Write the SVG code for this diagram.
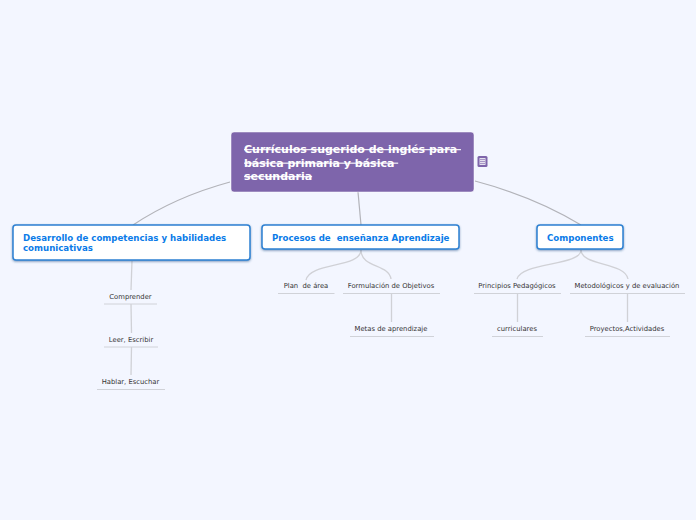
<svg xmlns="http://www.w3.org/2000/svg" width="696" height="520" viewBox="0 0 696 520">
<defs>
<style>
text{font-family:"DejaVu Sans",Verdana,sans-serif;white-space:pre}
.root{font-size:11px;font-weight:700;fill:#fff;text-decoration:line-through}
.main{font-size:8.650px;font-weight:700;fill:#0a7be8}
.sub{font-size:6.800px;fill:#333;text-anchor:middle}
.box{fill:#fff;stroke:#2d80d2;stroke-width:1.500;filter:url(#sh)}
.ul{stroke:#d0d2d8;stroke-width:1;fill:none}
.c1{stroke:#b2b3b9;stroke-width:1.200;fill:none}
.c2{stroke:#d0d1d6;stroke-width:1.300;fill:none}
</style>
<filter id="sh" x="-5%" y="-20%" width="110%" height="150%"><feDropShadow dx="0" dy="1" stdDeviation="0.8" flood-color="#1f4f86" flood-opacity="0.55"/></filter>
</defs>
<rect width="696" height="520" fill="#f3f6ff"/>
<g id="connectors">
<path class="c1" d="M230 182Q175 197 133 225"/>
<path class="c1" d="M358 192L361 225"/>
<path class="c1" d="M475 181Q535 197 581 225"/>
<path class="c2" d="M132 261L131 290"/>
<path class="c2" d="M131 304L131.500 333"/>
<path class="c2" d="M131.500 347L131 375"/>
<path class="c2" d="M361 250C361 268 310 262 306 280"/>
<path class="c2" d="M361 250C361 268 389 264 391 279"/>
<path class="c2" d="M391.500 293V322"/>
<path class="c2" d="M581 250C581 266 521 262 517 279"/>
<path class="c2" d="M581 250C581 266 625 262 628 279"/>
<path class="c2" d="M517.500 294V322"/>
<path class="c2" d="M627.500 294V322"/>
</g>
<g id="root">
<rect x="231" y="132" width="243" height="60" rx="3" fill="#7e65ab" stroke="#fff" stroke-width="0.500"/>
<text class="root" x="244" y="153">Currículos sugerido de inglés para </text>
<text class="root" x="244" y="166.500">básica primaria y básica </text>
<text class="root" x="244" y="180">secundaria</text>
</g>
<g id="note">
<rect x="477.500" y="156" width="10" height="11" rx="1.500" fill="#7e65ab"/>
<rect x="479.500" y="158" width="6" height="7" fill="#e4e0ee"/>
<path d="M480 159.500h5M480 161.500h5M480 163.500h5" stroke="#7e65ab" stroke-width="0.600" fill="none"/>
</g>
<g id="n-desarrollo">
<rect class="box" x="13" y="225" width="237" height="35" rx="3"/>
<text class="main" x="23" y="241">Desarrollo de competencias y habilidades</text>
<text class="main" x="23" y="251">comunicativas</text>
</g>
<g id="n-procesos">
<rect class="box" x="262" y="225" width="197" height="24" rx="3"/>
<text class="main" x="272" y="241">Procesos de  enseñanza Aprendizaje</text>
</g>
<g id="n-componentes">
<rect class="box" x="537" y="225" width="86" height="24" rx="3"/>
<text class="main" x="547" y="241">Componentes</text>
</g>
<g id="n-comprender"><text class="sub" x="130.500" y="299">Comprender</text><path class="ul" d="M104 304H157"/></g>
<g id="n-leer"><text class="sub" x="131" y="342">Leer, Escribir</text><path class="ul" d="M104 347H158"/></g>
<g id="n-hablar"><text class="sub" x="130.500" y="384">Hablar, Escuchar</text><path class="ul" d="M97 389.500H165"/></g>
<g id="n-plan"><text class="sub" x="306" y="288">Plan  de área</text><path class="ul" d="M278 293.500H334.500"/></g>
<g id="n-formulacion"><text class="sub" x="391" y="288">Formulación de Objetivos</text><path class="ul" d="M343 293.500H440"/></g>
<g id="n-metas"><text class="sub" x="391" y="331">Metas de aprendizaje</text><path class="ul" d="M350 336.500H434"/></g>
<g id="n-principios"><text class="sub" x="517" y="288">Principios Pedagógicos</text><path class="ul" d="M474 293.500H561"/></g>
<g id="n-metodologicos"><text class="sub" x="627" y="288">Metodológicos y de evaluación</text><path class="ul" d="M570 293.500H685"/></g>
<g id="n-curriculares"><text class="sub" x="517" y="331">curriculares</text><path class="ul" d="M492 336.500H543"/></g>
<g id="n-proyectos"><text class="sub" x="627" y="331">Proyectos,Actividades</text><path class="ul" d="M585 336.500H670"/></g>
</svg>
